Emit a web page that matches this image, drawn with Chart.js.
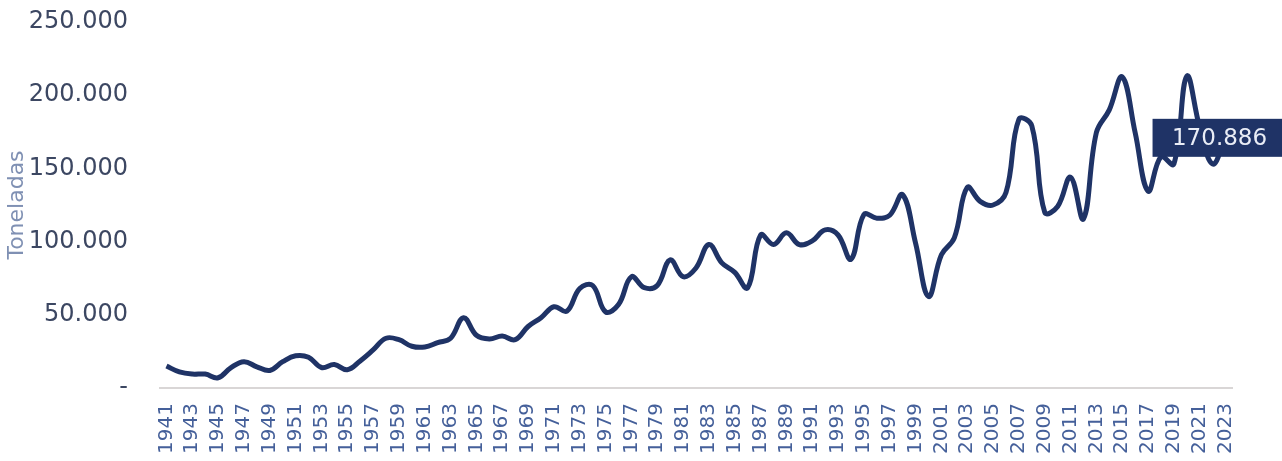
<!DOCTYPE html>
<html>
<head>
<meta charset="utf-8">
<script src="https://cdn.jsdelivr.net/npm/chart.js@4.4.1/dist/chart.umd.min.js"></script>
<style>
  body { margin: 0; background: #fff; }
  #wrap { width: 1282px; height: 461px; }
</style>
</head>
<body>
<div id="wrap"><canvas id="myChart" width="1282" height="461"></canvas></div>
<script>
// years 1941..2023
var years = [];
for (var y = 1941; y <= 2023; y++) years.push(String(y));

// toneladas
var toneladas = [
  15000, 11000, 9500, 9500, 7000, 14000, 18000, 14500, 12000, 18000,   // 1941-1950
  22000, 21000, 14000, 16000, 12500, 18500, 26000, 34000, 33000, 28500, // 1951-1960
  28000, 31000, 34000, 48000, 36000, 33500, 35500, 33000, 42000, 48000, // 1961-1970
  55500, 52500, 68000, 70000, 52000, 57000, 76000, 68500, 70000, 87500, // 1971-1980
  76000, 82000, 98000, 85500, 79000, 68500, 104500, 98000, 106000, 98000, // 1981-1990
  100500, 108000, 104500, 88000, 118500, 116000, 118000, 132000, 99000, 62500, // 1991-2000
  91000, 102500, 137000, 127500, 125000, 133500, 183500, 179000, 120000, 124000, // 2001-2010
  144000, 115500, 174500, 190000, 212500, 174500, 134500, 158000, 153000, 213000, // 2011-2020
  178000, 153000, 170886 // 2021-2023
];

var yTicks = [0, 50000, 100000, 150000, 200000, 250000];

var navy = '#1f3366';

function fmt(v) {
  if (v === 0) return '-';
  return String(v).replace(/\B(?=(\d{3})+(?!\d))/g, '.');
}

// box with the last value
var lastLabel = {
  id: 'lastLabel',
  afterDatasetsDraw: function(chart) {
    var meta = chart.getDatasetMeta(0);
    var pt = meta.data[meta.data.length - 1];
    var ctx = chart.ctx;
    var w = 146, h = 38;
    ctx.save();
    ctx.fillStyle = navy;
    ctx.fillRect(pt.x - w / 2, pt.y - h / 2, w, h);
    ctx.fillStyle = '#e9edf6';
    ctx.font = '23px "DejaVu Sans"';
    ctx.textAlign = 'center';
    ctx.textBaseline = 'middle';
    ctx.fillText(fmt(toneladas[toneladas.length - 1]), pt.x - 6, pt.y + 1);
    ctx.restore();
  }
};

var ctx = document.getElementById('myChart').getContext('2d');
var myChart = new Chart(ctx, {
  type: 'line',
  data: {
    labels: years,
    datasets: [{
      data: toneladas,
      borderColor: navy,
      borderWidth: 5,
      pointRadius: 0,
      tension: 0.4,
      fill: false
    }]
  },
  options: {
    responsive: false,
    animation: false,
    layout: { padding: { top: 22, right: 50, bottom: 0, left: 0 } },
    plugins: { legend: { display: false }, tooltip: { enabled: false } },
    scales: {
      x: {
        offset: true,
        grid: { display: false, drawTicks: true, tickLength: 12 },
        border: { display: true, color: '#d9d6d6', width: 2 },
        ticks: {
          autoSkip: false,
          minRotation: 90,
          maxRotation: 90,
          padding: 3,
          color: '#45609a',
          font: { family: 'DejaVu Sans', size: 20 },
          callback: function(val, i) { return i % 2 === 0 ? years[i] : ''; }
        },
        afterFit: function(scale) { scale.height = 73; }
      },
      y: {
        min: 0,
        max: 250000,
        afterBuildTicks: function(scale) {
          scale.ticks = yTicks.map(function(v) { return { value: v }; });
        },
        grid: { display: false, drawTicks: true, tickLength: 29 },
        border: { display: false },
        ticks: {
          padding: 3,
          color: '#3c4762',
          font: { family: 'DejaVu Sans', size: 24 },
          callback: function(v) { return fmt(v); }
        },
        title: {
          display: true,
          text: 'Toneladas',
          color: '#7f90b3',
          font: { family: 'DejaVu Sans', size: 22 },
          padding: { top: 4, bottom: 0 }
        },
        afterFit: function(scale) { scale.width = 160; }
      }
    }
  },
  plugins: [lastLabel]
});
</script>
</body>
</html>
